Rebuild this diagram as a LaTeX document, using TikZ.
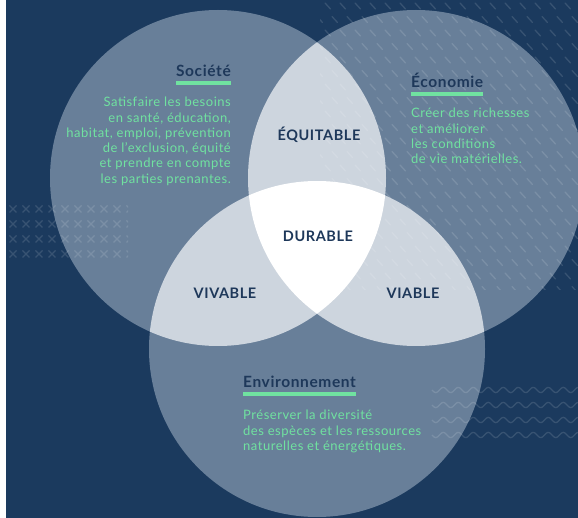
\documentclass[tikz,border=0pt]{standalone}
\usepackage{fontspec}
\setmainfont{Lato}
\newfontfamily\spaced[LetterSpace=4]{Lato}
\usepackage{xcolor}
\usetikzlibrary{positioning}

\definecolor{navy}{RGB}{27,58,94}
\definecolor{disc}{RGB}{104,127,153}
\definecolor{lens}{RGB}{205,213,222}
\definecolor{mint}{RGB}{112,226,160}
\definecolor{inknavy}{RGB}{30,56,90}

\tikzset{
  heading/.style={font=\spaced\bfseries\fontsize{15.5}{17}\selectfont, text=inknavy, inner sep=0pt},
  blurb/.style={font=\spaced\fontsize{13}{15.3}\selectfont, text=mint, inner sep=0pt},
  zonelabel/.style={font=\spaced\bfseries\fontsize{14.5}{16}\selectfont, text=inknavy, inner sep=0pt},
  underbar/.style={mint, line width=4pt},
  deco/.style={white, opacity=0.13, line width=1.3pt},
}

\def\rad{168pt}

\begin{document}
\begin{tikzpicture}[x=1pt, y=-1pt]

    \useasboundingbox (0,0) rectangle (578,518);

    % Background
    \fill[white] (0,0) rectangle (578,518);
    \fill[navy] (6,0) rectangle (578,518);

    % Circle centres
    \coordinate (soc) at (218,178);
    \coordinate (eco) at (416,178);
    \coordinate (env) at (317,349);

    % Discs
    \fill[disc] (soc) circle (\rad);
    \fill[disc] (eco) circle (\rad);
    \fill[disc] (env) circle (\rad);

    % Overlaps of two
    \begin{scope}
        \clip (soc) circle (\rad);
        \fill[lens] (eco) circle (\rad);
        \fill[lens] (env) circle (\rad);
    \end{scope}
    \begin{scope}
        \clip (eco) circle (\rad);
        \fill[lens] (env) circle (\rad);
    \end{scope}

    % Overlap of all three
    \begin{scope}
        \clip (soc) circle (\rad);
        \clip (eco) circle (\rad);
        \fill[white] (env) circle (\rad);
    \end{scope}

    % Crosses on the left
    \begin{scope}
        \clip (6,195) rectangle (128,265);
        \foreach \r in {0,...,3} {
            \foreach \c in {0,...,9} {
                \pgfmathsetmacro{\cx}{13+13*\c}
                \pgfmathsetmacro{\cy}{209+15*\r}
                \draw[deco] (\cx-3.5,\cy-3.5) -- (\cx+3.5,\cy+3.5)
                            (\cx-3.5,\cy+3.5) -- (\cx+3.5,\cy-3.5);
            }
        }
    \end{scope}

    % Dashes on the top right
    \begin{scope}
        \clip (320,0) rectangle (578,290);
        \foreach \j in {0,...,21} {
            \foreach \i in {0,...,18} {
                \pgfmathsetmacro{\dx}{310+15*\i+7*mod(\j,2)}
                \pgfmathsetmacro{\dy}{3+13.5*\j}
                \draw[deco, line cap=round] (\dx,\dy) -- (\dx+5.5,\dy+6);
            }
        }
    \end{scope}

    % Waves on the bottom right
    \foreach \w in {390,405,420,435} {
        \draw[deco, domain=432:578, samples=120, smooth]
            plot (\x, {\w + 2.6*sin(24*(\x-432))});
    }

    % Societe
    \node[heading, anchor=base east] (socTitle) at (231,77) {Société};
    \draw[underbar] ([yshift=-6pt]socTitle.south west) -- ([yshift=-6pt]socTitle.south east);
    \node[blurb, anchor=north east, align=right] (socText) at (231,97)
        {Satisfaire les besoins\\en santé, éducation,\\habitat, emploi, prévention\\de l’exclusion, équité\\et prendre en compte\\les parties prenantes.};

    % Economie
    \node[heading, anchor=base west] (ecoTitle) at (411,88) {Économie};
    \draw[underbar] ([yshift=-6pt]ecoTitle.south west) -- ([yshift=-6pt]ecoTitle.south east);
    \node[blurb, anchor=north west, align=left] (ecoText) at (411,108)
        {Créer des richesses\\et améliorer\\les conditions\\de vie matérielles.};

    % Environnement
    \node[heading, anchor=base west] (envTitle) at (243,388) {Environnement};
    \draw[underbar] ([yshift=-6pt]envTitle.south west) -- ([yshift=-6pt]envTitle.south east);
    \node[blurb, anchor=north west, align=left] (envText) at (243,410)
        {Préserver la diversité\\des espèces et les ressources\\naturelles et énergétiques.};

    % Overlap names
    \node[zonelabel] (equitable) at (319,135) {ÉQUITABLE};
    \node[zonelabel] (durable) at (318,236) {DURABLE};
    \node[zonelabel] (vivable) at (225,293) {VIVABLE};
    \node[zonelabel] (viable) at (413,293) {VIABLE};

\end{tikzpicture}
\end{document}
